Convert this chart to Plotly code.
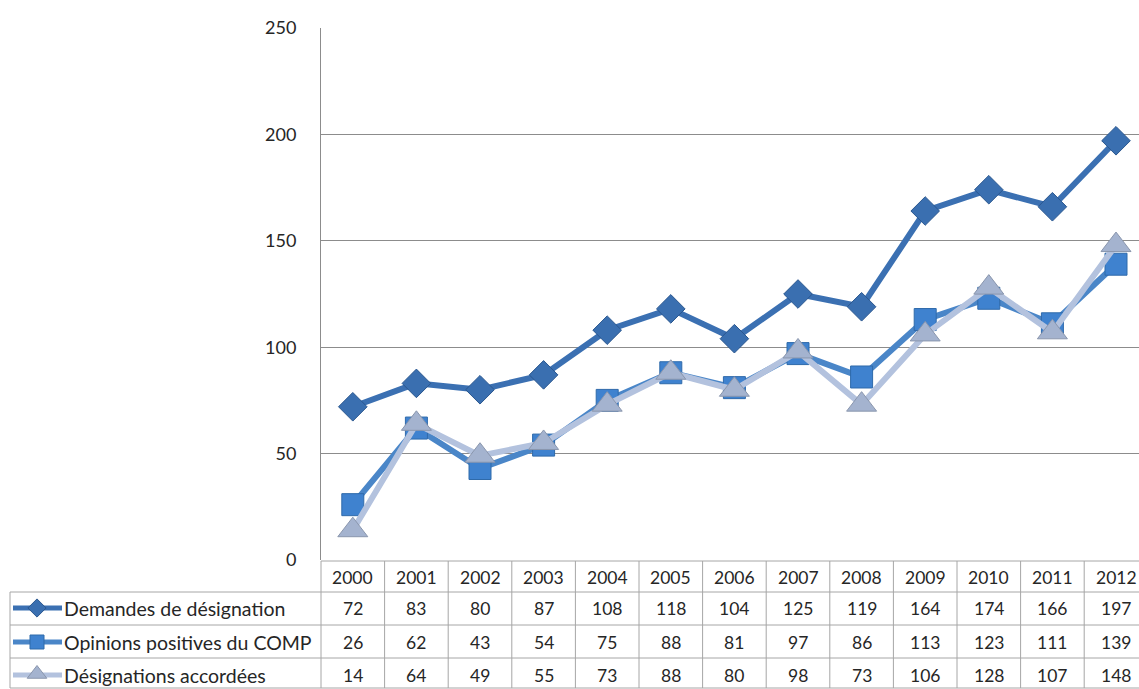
import plotly.graph_objects as go

years = ["2000", "2001", "2002", "2003", "2004", "2005", "2006", "2007", "2008", "2009", "2010", "2011", "2012"]
series_names = ["Demandes de désignation", "Opinions positives du COMP", "Désignations accordées"]
demandes = [72, 83, 80, 87, 108, 118, 104, 125, 119, 164, 174, 166, 197]
opinions = [26, 62, 43, 54, 75, 88, 81, 97, 86, 113, 123, 111, 139]
designations = [14, 64, 49, 55, 73, 88, 80, 98, 73, 106, 128, 107, 148]
y_ticks = [0, 50, 100, 150, 200, 250]

W, H = 1139, 689
FONT = "Lato"
TXT = "#262626"
GRID = "#8c8c8c"
TBL = "#a6a6a6"

line_cols = ["#3b70b2", "#4a86c8", "#b3c2de"]
mk_cols = ["#3a6fb0", "#3f82cf", "#a4b3cf"]
mk_line = ["#2a578f", "#2f6aaa", "#8a96ad"]
symbols = ["diamond", "square", "triangle-up"]
sizes = [22, 22, 26]
data = [demandes, opinions, designations]

x_left, col_w = 321, 63.6
y_top_px, y_zero_px = 28, 560

fig = go.Figure()
xs = list(range(len(years)))
for i in range(3):
    fig.add_trace(go.Scatter(
        x=xs, y=data[i], mode="lines+markers", name=series_names[i],
        line=dict(color=line_cols[i], width=6),
        marker=dict(symbol=symbols[i], size=sizes[i], color=mk_cols[i],
                    line=dict(color=mk_line[i], width=1)),
        showlegend=False, xaxis="x", yaxis="y"))

# legend keys inside table (decorative, pixel overlay axis)
row_c = [608, 642, 675]
for i in range(3):
    fig.add_trace(go.Scatter(
        x=[13, 37, 62], y=[row_c[i]] * 3, mode="lines",
        line=dict(color=line_cols[i], width=5), showlegend=False,
        xaxis="x2", yaxis="y2", hoverinfo="skip"))
    fig.add_trace(go.Scatter(
        x=[37], y=[row_c[i] - (1 if i == 2 else 0)], mode="markers",
        marker=dict(symbol=symbols[i], size=[14, 14, 17][i], color=mk_cols[i],
                    line=dict(color=mk_line[i], width=1)),
        showlegend=False, xaxis="x2", yaxis="y2", hoverinfo="skip"))

x_range_right = -0.5 + (W - x_left) / col_w
fig.update_layout(
    width=W, height=H, margin=dict(l=0, r=0, t=0, b=0, pad=0, autoexpand=False),
    paper_bgcolor="white", plot_bgcolor="rgba(0,0,0,0)",
    font=dict(family=FONT, color=TXT, size=18),
    xaxis=dict(domain=[x_left / W, 1], range=[-0.5, x_range_right],
               showticklabels=False, showgrid=False, zeroline=False,
               fixedrange=True, anchor="y", automargin=False),
    yaxis=dict(domain=[(H - y_zero_px) / H, (H - y_top_px) / H], range=[0, 250],
               tickvals=y_ticks, ticktext=[str(v) for v in y_ticks],
               showgrid=True, gridcolor=GRID, gridwidth=1, zeroline=False,
               showline=True, linecolor=GRID, linewidth=1,
               ticks="", ticklabelstandoff=20, anchor="x", automargin=False,
               tickfont=dict(family=FONT, size=18, color=TXT)),
    xaxis2=dict(domain=[0, 1], range=[0, W], visible=False, anchor="y2", automargin=False),
    yaxis2=dict(domain=[0, 1], range=[H, 0], visible=False, anchor="x2", automargin=False),
)

def px(x):
    return x / W

def py(y):
    return 1 - y / H

shapes = []
row_lines = [561, 592, 625, 658, 688]
shapes.append(dict(type="line", xref="paper", yref="paper", x0=px(x_left), x1=1,
                   y0=py(561), y1=py(561), line=dict(color=TBL, width=1)))
for yl in row_lines[1:]:
    shapes.append(dict(type="line", xref="paper", yref="paper", x0=px(10), x1=1,
                       y0=py(yl), y1=py(yl), line=dict(color=TBL, width=1)))
for k in range(14):
    xv = x_left + k * col_w
    if xv > W:
        break
    shapes.append(dict(type="line", xref="paper", yref="paper", x0=px(xv), x1=px(xv),
                       y0=py(561), y1=py(688), line=dict(color=TBL, width=1)))
shapes.append(dict(type="line", xref="paper", yref="paper", x0=px(10), x1=px(10),
                   y0=py(592), y1=py(688), line=dict(color=TBL, width=1)))
fig.update_layout(shapes=shapes)

ann = []
for j, yr in enumerate(years):
    ann.append(dict(x=j, xref="x", y=py(577), yref="paper", text=yr, showarrow=False,
                    xanchor="center", yanchor="middle", font=dict(size=17.5, color=TXT, family=FONT)))
    for i in range(3):
        ann.append(dict(x=j, xref="x", y=py(row_c[i]), yref="paper", text=str(data[i][j]),
                        showarrow=False, xanchor="center", yanchor="middle",
                        font=dict(size=17.5, color=TXT, family=FONT)))
for i in range(3):
    ann.append(dict(x=px(62), xref="paper", y=py(row_c[i]), yref="paper", text=series_names[i],
                    showarrow=False, xanchor="left", yanchor="middle",
                    font=dict(size=19.5, color=TXT, family=FONT)))
fig.update_layout(annotations=ann)

fig.write_html("out.html", config={"displayModeBar": False},
               post_script="document.body.style.margin='0';document.body.style.overflow='hidden';")
